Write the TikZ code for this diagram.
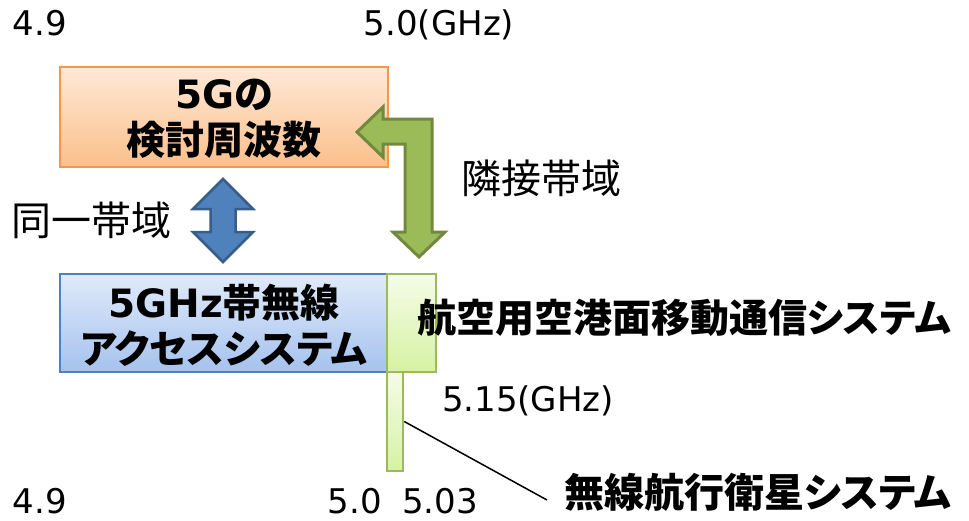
\documentclass[tikz,border=0pt]{standalone}
\usepackage{fontspec}
\setmainfont{DejaVu Sans}
\newfontfamily\jp[RawFeature=+palt]{Noto Sans CJK JP}
\usetikzlibrary{calc}
\definecolor{orbord}{HTML}{F79646}
\definecolor{ortop}{HTML}{FFE9D8}
\definecolor{orbot}{HTML}{FBBF8A}
\definecolor{blbord}{HTML}{4F81BD}
\definecolor{bltop}{HTML}{E0EAFA}
\definecolor{blbot}{HTML}{A5C2EE}
\definecolor{grbord}{HTML}{9BBB59}
\definecolor{grtop}{HTML}{F5FCE8}
\definecolor{grbot}{HTML}{D6F2A2}
\definecolor{arrgreen}{HTML}{9BBB59}
\definecolor{arrgreenb}{HTML}{71893F}
\definecolor{arrblue}{HTML}{4F81BD}
\definecolor{arrblueb}{HTML}{385D8A}
\begin{document}
\begin{tikzpicture}[x=1pt,y=-1pt,
  num/.style={font=\fontsize{34}{40}\selectfont, inner sep=0pt, anchor=base},
  jlab/.style={font=\jp\fontsize{40}{48}\selectfont, inner sep=0pt},
  jbold/.style={font=\jp\bfseries\fontsize{39}{46}\selectfont, inner sep=0pt},
  boxtext/.style={align=center, font=\fontsize{39}{46}\selectfont\bfseries, inner sep=0pt},
  orbox/.style={draw=orbord, line width=2.5pt, top color=ortop, bottom color=orbot, minimum width=328pt, minimum height=100pt, inner sep=0pt},
  blbox/.style={draw=blbord, line width=2.5pt, top color=bltop, bottom color=blbot, minimum width=327pt, minimum height=98pt, inner sep=0pt},
  grbox/.style={draw=grbord, line width=2.5pt, top color=grtop, bottom color=grbot, inner sep=0pt},
  garrow/.style={fill=arrgreen, draw=arrgreenb, line width=3pt, line join=miter},
  barrow/.style={fill=arrblue, draw=arrblueb, line width=2.5pt, line join=miter},
  leader/.style={draw=black, line width=1.5pt}
]
\useasboundingbox (0,0) rectangle (969,520);

% boxes
\node[orbox] (orange) at (224,117) {};
\node[boxtext] (orangetext) at (224,119) {\bfseries 5G{\jp の}\\{\jp 検討周波数}};
\node[blbox] (blue) at (223.5,323) {};
\node[boxtext] (bluetext) at (224,325.5) {5GHz{\jp 帯無線}\\{\jp アクセスシステム}};
\node[grbox, minimum width=49pt, minimum height=98pt] (gbox) at (411.5,323) {};
\node[grbox, minimum width=16pt, minimum height=99pt] (nbox) at (395,421.5) {};

% green bent arrow
\draw[garrow] (357,132) -- (383,107) -- (383,119) -- (432,119) -- (432,232)
  -- (445,232) -- (419,257) -- (393,232) -- (405,232) -- (405,144)
  -- (383,144) -- (383,157) -- cycle;

% blue double arrow
\draw[barrow] (223,179) -- (253,209) -- (235.5,209) -- (235.5,232) -- (253,232)
  -- (223,262) -- (193,232) -- (210.5,232) -- (210.5,209) -- (193,209) -- cycle;

% leader line
\coordinate (leadend) at (547,500);
\draw[leader] (nbox.east) -- (leadend);

% labels
\node[num] (t49) at (40,35) {4.9};
\node[num] (t50) at (439,35) {5.0(GHz)};
\node[jlab] (rinsetsu) at (541,178) {隣接帯域};
\node[jlab] (douitsu) at (92,220) {同一帯域};
\node[jbold] (aero) at (684,318) {航空用空港面移動通信システム};
\node[num] (t515) at (528,411) {5.15(GHz)};
\node[jbold, font=\jp\bfseries\fontsize{40}{46}\selectfont] (rnss) at (758,492) {無線航行衛星システム};
\node[num] (b49) at (40,513) {4.9};
\node[num] (b50) at (355,513) {5.0};
\node[num] (b503) at (440,513) {5.03};
\end{tikzpicture}
\end{document}
